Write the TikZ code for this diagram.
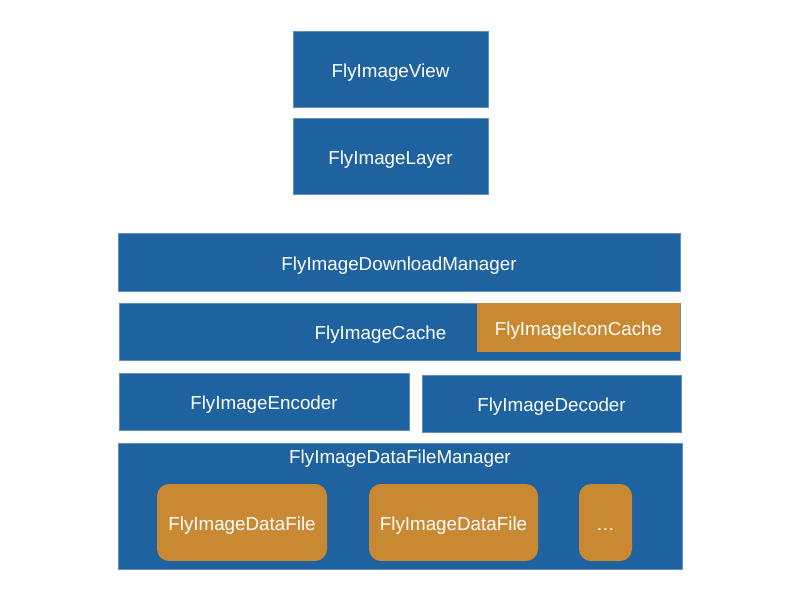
\documentclass[tikz,border=0pt]{standalone}
\usepackage{fontspec}
\setmainfont{Liberation Sans}
\definecolor{flyblue}{HTML}{1F62A0}
\definecolor{flyorange}{HTML}{C98832}
\begin{document}
\begin{tikzpicture}[x=1pt,y=-1pt,
  txt/.style={text=white, font=\fontsize{18.8}{21}\selectfont, text height=16.5pt, text depth=0pt},
  box/.style={rectangle, fill=flyblue, draw=flyblue!70!white, line width=0.8pt, inner sep=0pt, txt},
  obox/.style={rectangle, fill=flyorange, inner sep=0pt, txt},
  rbox/.style={obox, rounded corners=12pt}]
\useasboundingbox[fill=white] (0,0) rectangle (800,600);
\node[box, minimum width=195pt, minimum height=76pt] (view) at (390.5,69) {FlyImageView};
\node[box, minimum width=195pt, minimum height=76pt] (layer) at (390.5,156) {FlyImageLayer};
\node[box, minimum width=562pt, minimum height=58pt] (dl) at (399,262) {FlyImageDownloadManager};
\node[box, minimum width=561pt, minimum height=57pt,
  label={[xshift=-19pt, txt]center:FlyImageCache}] (cache) at (399.5,331.5) {};
\node[obox, minimum width=203pt, minimum height=49pt] (icon) at (578.5,327.5) {FlyImageIconCache};
\node[box, minimum width=290pt, minimum height=57pt] (enc) at (264,401.5) {FlyImageEncoder};
\node[box, minimum width=259pt, minimum height=57pt] (dec) at (551.5,403.5) {FlyImageDecoder};
\node[box, minimum width=564pt, minimum height=126pt,
  label={[below=1pt, txt]north:FlyImageDataFileManager}] (dfm) at (400,506) {};
\node[rbox, minimum width=170pt, minimum height=77pt] (df1) at (242,522.5) {FlyImageDataFile};
\node[rbox, minimum width=169pt, minimum height=77pt] (df2) at (453.5,522.5) {FlyImageDataFile};
\node[rbox, minimum width=53pt, minimum height=77pt] (dfx) at (605.5,522.5) {\dots};
\end{tikzpicture}
\end{document}
